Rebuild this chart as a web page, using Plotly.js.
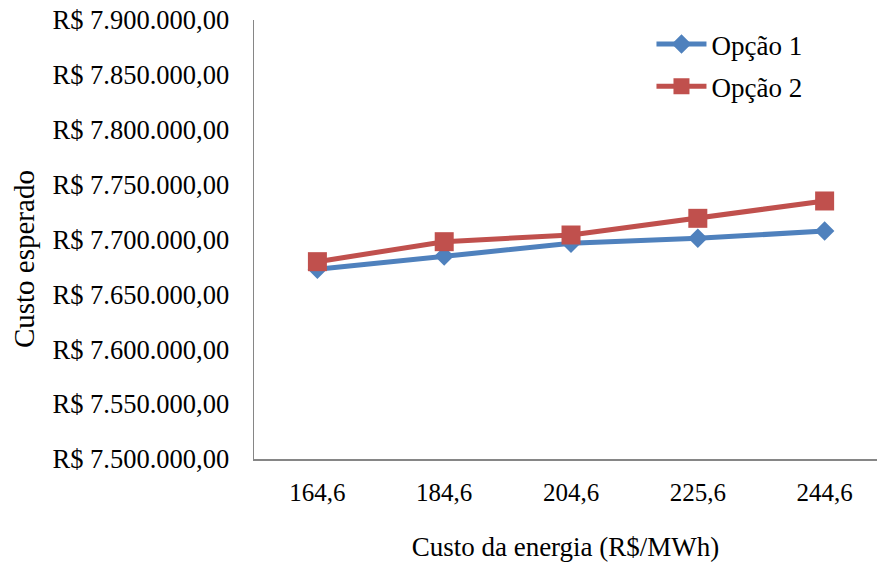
<!DOCTYPE html>
<html>
<head>
<meta charset="utf-8">
<script src="https://cdn.plot.ly/plotly-3.0.1.min.js"></script>
<style>html,body{margin:0;padding:0;background:#fff;}#chart{width:877px;height:566px;}</style>
</head>
<body>
<div id="chart"></div>
<script>
var categories = ["164,6", "184,6", "204,6", "225,6", "244,6"];
var opcao1 = [7672800, 7685000, 7696500, 7701100, 7707700];
var opcao2 = [7679800, 7698000, 7704100, 7719300, 7735100];
var yTickVals = [7500000, 7550000, 7600000, 7650000, 7700000, 7750000, 7800000, 7850000, 7900000];
var yTickText = ["R$ 7.500.000,00", "R$ 7.550.000,00", "R$ 7.600.000,00", "R$ 7.650.000,00", "R$ 7.700.000,00", "R$ 7.750.000,00", "R$ 7.800.000,00", "R$ 7.850.000,00", "R$ 7.900.000,00"];
var yTitle = "Custo esperado";
var xTitle = "Custo da energia (R$/MWh)";

var font = "Liberation Serif, Times New Roman, serif";
var traces = [
  {x: categories, y: opcao1, name: "Opção 1", type: "scatter", mode: "lines+markers", legendgroup: "a",
   line: {color: "#4F81BD", width: 5}, marker: {symbol: "diamond", size: 15, color: "#4F81BD"}},
  {x: categories, y: opcao2, name: "Opção 2", type: "scatter", mode: "lines+markers", legendgroup: "b",
   line: {color: "#C0504D", width: 5}, marker: {symbol: "square", size: 19, color: "#C0504D"}}
];
var layout = {
  width: 877, height: 566,
  margin: {l: 254, r: 0, t: 20, b: 107},
  paper_bgcolor: "#fff", plot_bgcolor: "#fff",
  font: {family: font, size: 25, color: "#000"},
  showlegend: true,
  legend: {x: 0.638, y: 1.0, xanchor: "left", yanchor: "top", bgcolor: "rgba(0,0,0,0)",
           font: {family: font, size: 27, color: "#000"}, traceorder: "grouped", tracegroupgap: 4, itemwidth: 50},
  xaxis: {type: "category", showgrid: false, zeroline: false, showline: true, linecolor: "#868686", linewidth: 1.5,
          ticks: "", tickfont: {family: font, size: 25}, ticklabelstandoff: 10,
          range: [-0.5, 4.413],
          title: {text: xTitle, font: {family: font, size: 27}, standoff: 32}},
  yaxis: {range: [7500000, 7900000], tickvals: yTickVals, ticktext: yTickText, showgrid: false, zeroline: false,
          showline: true, linecolor: "#868686", linewidth: 1.5, ticks: "", tickfont: {family: font, size: 26.5},
          ticklabelstandoff: 18},
  annotations: [
    {text: yTitle, xref: "paper", yref: "paper", x: -0.369, y: 0.4556, xanchor: "center", yanchor: "middle",
     textangle: -90, showarrow: false, font: {family: font, size: 29, color: "#000"}}
  ]
};
Plotly.newPlot("chart", traces, layout, {displayModeBar: false, staticPlot: true});
</script>
</body>
</html>
